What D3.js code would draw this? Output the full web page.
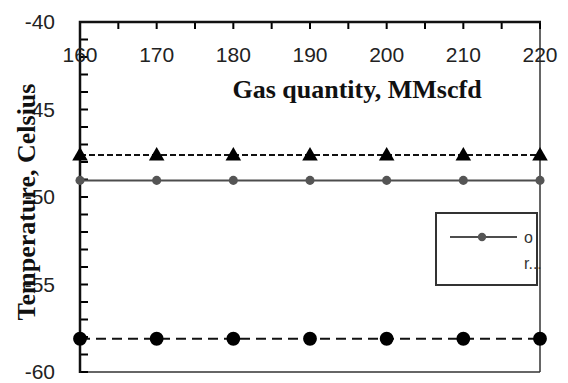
<!DOCTYPE html>
<html>
<head>
<meta charset="utf-8">
<script src="https://cdn.jsdelivr.net/npm/d3@7"></script>
<style>
  body { margin: 0; background: #fff; }
  svg { display: block; }
</style>
</head>
<body>
<svg id="chart" width="568" height="383"></svg>
<script>
// data
const gasQuantity = [160, 170, 180, 190, 200, 210, 220]
const triangleTemps = [-47.6, -47.6, -47.6, -47.6, -47.6, -47.6, -47.6]
const diamondTemps = [-49.05, -49.05, -49.05, -49.05, -49.05, -49.05, -49.05]
const circleTemps = [-58.1, -58.1, -58.1, -58.1, -58.1, -58.1, -58.1]
const xTicks = [160, 170, 180, 190, 200, 210, 220]
const yTicks = [-40, -45, -50, -55, -60]
const legendLabels = ['o', 'r...']

const margin = {top: 22, right: 28, bottom: 11, left: 80}
const width = 568, height = 383

const svg = d3.select('#chart')

const x = d3.scaleLinear().domain([160, 220]).range([margin.left, width - margin.right])
const y = d3.scaleLinear().domain([-40, -60]).range([margin.top, height - margin.bottom])

const sans = 'Liberation Sans, Arial, sans-serif'
const serif = 'Liberation Serif, Times New Roman, serif'

// frame: right and bottom thin
svg.append('line')
    .attr('x1', x(220)).attr('x2', x(220))
    .attr('y1', y(-40)).attr('y2', y(-60))
    .attr('stroke', '#333').attr('stroke-width', 1.5)
svg.append('line')
    .attr('x1', x(160)).attr('x2', x(220))
    .attr('y1', y(-60)).attr('y2', y(-60))
    .attr('stroke', '#333').attr('stroke-width', 1.5)

// minor ticks, pointing inward: every 5 on top, every 1 on the left
const xMinor = d3.range(160, 221, 5)
const yMinor = d3.range(-40, -60.5, -1)
let tickPath = ''
xMinor.forEach(d => { tickPath += `M${x(d)},${y(-40)}V${y(-40) + 7}` })
yMinor.forEach(d => { tickPath += `M${x(160)},${y(d)}H${x(160) + 8}` })
svg.append('path')
    .attr('d', tickPath)
    .attr('fill', 'none')
    .attr('stroke', '#000')
    .attr('stroke-width', 2)

// axis lines
svg.append('path')
    .attr('d', `M${x(160)},${y(-60) + 1}V${y(-40)}H${x(220) + 1}`)
    .attr('fill', 'none')
    .attr('stroke', '#111')
    .attr('stroke-width', 2.5)

svg.append('g').selectAll('text')
    .data(xTicks)
    .join('text')
    .attr('x', d => x(d))
    .attr('y', y(-40) + 40)
    .attr('text-anchor', 'middle')
    .attr('font-family', sans)
    .attr('font-size', 21)
    .attr('fill', '#222')
    .text(d => d)

svg.append('g').selectAll('text')
    .data(yTicks)
    .join('text')
    .attr('x', 55)
    .attr('y', d => y(d))
    .attr('dy', '0.35em')
    .attr('text-anchor', 'end')
    .attr('font-family', sans)
    .attr('font-size', 21)
    .attr('fill', '#222')
    .text(d => d)

// axis titles
svg.append('text')
    .attr('x', 357)
    .attr('y', 98)
    .attr('text-anchor', 'middle')
    .attr('font-family', serif)
    .attr('font-weight', 'bold')
    .attr('font-size', 26)
    .attr('fill', '#111')
    .text('Gas quantity, MMscfd')

svg.append('text')
    .attr('transform', 'translate(35,202) rotate(-90)')
    .attr('text-anchor', 'middle')
    .attr('font-family', serif)
    .attr('font-weight', 'bold')
    .attr('font-size', 26)
    .attr('fill', '#111')
    .text('Temperature, Celsius')

const line = vals => d3.line()
    .x((d, i) => x(gasQuantity[i]))
    .y(d => y(d))(vals)

// solid gray series
svg.append('path')
    .attr('d', line(diamondTemps))
    .attr('fill', 'none')
    .attr('stroke', '#4d4d4d')
    .attr('stroke-width', 2)
svg.append('g').selectAll('path')
    .data(diamondTemps)
    .join('path')
    .attr('transform', (d, i) => `translate(${x(gasQuantity[i])},${y(d)})`)
    .attr('d', d3.symbol(d3.symbolCircle, 65))
    .attr('fill', '#555')

// dashed triangle series
svg.append('path')
    .attr('d', line(triangleTemps))
    .attr('fill', 'none')
    .attr('stroke', '#111')
    .attr('stroke-width', 2.2)
    .attr('stroke-dasharray', '6,3')
svg.append('g').selectAll('path')
    .data(triangleTemps)
    .join('path')
    .attr('transform', (d, i) => `translate(${x(gasQuantity[i])},${y(d) + 1})`)
    .attr('d', d3.symbol(d3.symbolTriangle, 105))
    .attr('fill', '#000')

// dashed circle series
svg.append('path')
    .attr('d', line(circleTemps))
    .attr('fill', 'none')
    .attr('stroke', '#111')
    .attr('stroke-width', 2.2)
    .attr('stroke-dasharray', '10,6')
svg.append('g').selectAll('path')
    .data(circleTemps)
    .join('path')
    .attr('transform', (d, i) => `translate(${x(gasQuantity[i])},${y(d)})`)
    .attr('d', d3.symbol(d3.symbolCircle, 150))
    .attr('fill', '#000')

// legend
const legend = svg.append('g').attr('transform', 'translate(436,213)')
legend.append('rect')
    .attr('width', 101).attr('height', 72)
    .attr('fill', '#fff')
    .attr('stroke', '#333').attr('stroke-width', 2)
legend.append('line')
    .attr('x1', 14).attr('x2', 81)
    .attr('y1', 24).attr('y2', 24)
    .attr('stroke', '#4d4d4d').attr('stroke-width', 2)
legend.append('path')
    .attr('transform', 'translate(46,24)')
    .attr('d', d3.symbol(d3.symbolCircle, 55))
    .attr('fill', '#555')
legend.selectAll('text')
    .data(legendLabels)
    .join('text')
    .attr('x', 88)
    .attr('y', (d, i) => 30 + i * 26)
    .attr('font-family', sans)
    .attr('font-size', 16)
    .attr('fill', '#333')
    .text(d => d)
</script>
</body>
</html>
